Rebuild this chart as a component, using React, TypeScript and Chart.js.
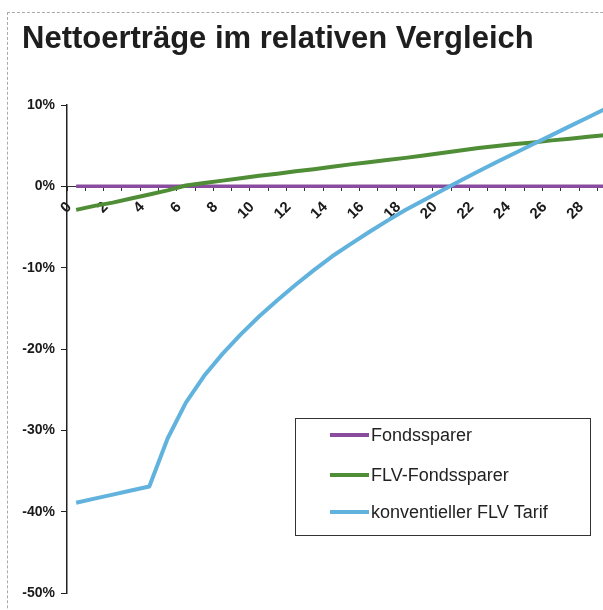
import React, { useEffect, useRef } from "react";
import { Chart, registerables } from "chart.js";

Chart.register(...registerables);

const TITLE = "Nettoerträge im relativen Vergleich";
const YEARS = ["0","1","2","3","4","5","6","7","8","9","10","11","12","13","14","15","16","17","18","19","20","21","22","23","24","25","26","27","28","29","30"];
const FONDSSPARER = [0,0,0,0,0,0,0,0,0,0,0,0,0,0,0,0,0,0,0,0,0,0,0,0,0,0,0,0,0,0,0];
const FLV_FONDSSPARER = [-2.9,-2.4,-2.0,-1.5,-1.0,-0.5,0.1,0.4,0.7,1.0,1.3,1.55,1.85,2.1,2.4,2.7,2.95,3.25,3.5,3.8,4.1,4.4,4.7,4.95,5.2,5.4,5.65,5.85,6.1,6.3,6.5];
const KONV_FLV_TARIF = [-38.9,-38.4,-37.9,-37.4,-36.9,-31.0,-26.6,-23.3,-20.6,-18.2,-16.0,-14.0,-12.1,-10.3,-8.6,-7.1,-5.65,-4.25,-2.9,-1.7,-0.5,0.7,1.85,3.0,4.1,5.2,6.3,7.4,8.5,9.6,10.7];
const SERIES_NAMES = ["Fondssparer", "FLV-Fondssparer", "konventieller FLV Tarif"];
const SERIES_COLORS = ["#8a4c9e", "#4f8d36", "#62b2de"];
const Y_MIN = -50;
const Y_MAX = 10;
const Y_STEP = 10;

const FONT = '"Liberation Sans", Arial, sans-serif';

const overlayPlugin = {
  id: "overlay",
  afterDraw(chart: any) {
    const ctx = chart.ctx;
    ctx.save();
    // title
    ctx.font = `bold 31px ${FONT}`;
    ctx.fillStyle = "#1e1e1e";
    ctx.textBaseline = "alphabetic";
    ctx.textAlign = "left";
    ctx.fillText(TITLE, 22, 48);
    // legend
    const bx = 295.5, by = 418.5, bw = 295, bh = 117;
    ctx.fillStyle = "#ffffff";
    ctx.fillRect(bx, by, bw, bh);
    ctx.strokeStyle = "#333";
    ctx.lineWidth = 1;
    ctx.strokeRect(bx, by, bw, bh);
    const rows = [435, 475, 512];
    ctx.font = `18px ${FONT}`;
    ctx.textBaseline = "middle";
    chart.data.datasets.forEach((ds: any, i: number) => {
      const y = rows[i];
      ctx.strokeStyle = ds.borderColor;
      ctx.lineWidth = 4;
      ctx.beginPath();
      ctx.moveTo(330, y);
      ctx.lineTo(369, y);
      ctx.stroke();
      ctx.fillStyle = "#222";
      ctx.fillText(ds.label, 371, y + 1);
    });
    ctx.restore();
  },
};

export default function App() {
  const ref = useRef<HTMLCanvasElement | null>(null);
  useEffect(() => {
    if (!ref.current) return;
    const values = [FONDSSPARER, FLV_FONDSSPARER, KONV_FLV_TARIF];
    const chart = new Chart(ref.current, {
      type: "line",
      data: {
        labels: YEARS,
        datasets: values.map((v, i) => ({
          label: SERIES_NAMES[i],
          data: v,
          borderColor: SERIES_COLORS[i],
          backgroundColor: SERIES_COLORS[i],
          borderWidth: i === 0 ? 3.5 : 4,
          pointRadius: 0,
          tension: 0,
          borderJoinStyle: "round" as const,
          order: 3 - i,
        })),
      },
      options: {
        animation: false,
        responsive: false,
        maintainAspectRatio: false,
        layout: { padding: { left: 8, right: 16, top: 105, bottom: 17 } },
        plugins: {
          legend: { display: false },
          title: { display: false },
          tooltip: { enabled: false },
        },
        scales: {
          x: {
            type: "category",
            position: { y: 0 } as any,
            offset: true,
            grid: {
              offset: true,
              drawOnChartArea: false,
              drawTicks: true,
              tickLength: 4,
              color: "#333",
            },
            border: { display: true, color: "#333", width: 1 },
            ticks: {
              autoSkip: false,
              minRotation: 45,
              maxRotation: 45,
              padding: 8,
              labelOffset: -7,
              color: "#1a1a1a",
              font: { family: FONT, size: 15, weight: "bold" },
              callback: (_v: any, i: number) => (i % 2 === 0 ? YEARS[i] : ""),
            },
            afterFit: (s: any) => {
              s.height = 0;
            },
          },
          y: {
            min: Y_MIN,
            max: Y_MAX,
            grid: {
              drawOnChartArea: false,
              drawTicks: true,
              tickLength: 6,
              color: "#222",
            },
            border: { display: true, color: "#222", width: 1.5 },
            ticks: {
              stepSize: Y_STEP,
              padding: 6,
              color: "#1a1a1a",
              font: { family: FONT, size: 14, weight: "bold" },
              callback: (v: any) => `${v}%`,
            },
            afterFit: (s: any) => {
              s.width = 59;
            },
          },
        },
      },
      plugins: [overlayPlugin],
    });
    return () => chart.destroy();
  }, []);

  return (
    <div style={{ position: "fixed", left: 0, top: 0, width: 603, height: 610, overflow: "hidden", background: "#fff" }}>
      <div
        style={{
          position: "absolute",
          left: 7,
          top: 12,
          width: 700,
          height: 700,
          borderLeft: "1px dashed #aaa",
          borderTop: "1px dashed #aaa",
        }}
      />
      <canvas
        ref={ref}
        width={650}
        height={610}
        style={{ position: "absolute", left: 0, top: 0, width: 650, height: 610 }}
      />
    </div>
  );
}
